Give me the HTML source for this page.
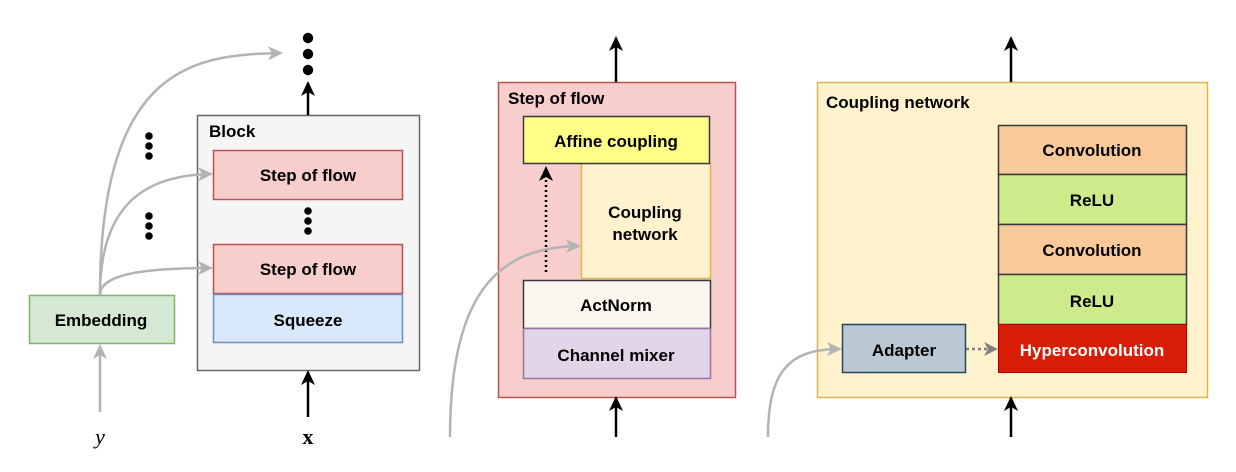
<!DOCTYPE html>
<html><head><style>
body{margin:0;background:#fff}
svg text{font-family:"Liberation Sans",Arial,sans-serif;font-weight:bold;font-size:17px}
</style></head><body>
<svg width="1236" height="467" viewBox="0 0 1236 467" xmlns="http://www.w3.org/2000/svg">
<defs>
<marker id="ab" markerWidth="16" markerHeight="16" refX="13" refY="8" orient="auto" markerUnits="userSpaceOnUse"><path d="M0,1 L15,8 L0,15 L4,8 z" fill="#000"/></marker>
<marker id="ag" markerWidth="16" markerHeight="16" refX="13" refY="8" orient="auto" markerUnits="userSpaceOnUse"><path d="M0,1 L15,8 L0,15 L4,8 z" fill="#b3b3b3"/></marker>
<marker id="ad" markerWidth="14" markerHeight="14" refX="12" refY="7" orient="auto" markerUnits="userSpaceOnUse"><path d="M0,0 L14,7 L0,14 L4,7 z" fill="#808080"/></marker>
</defs>
<!-- Left panel -->
<rect x="197.5" y="115.5" width="222" height="255" fill="#f5f5f5" stroke="#666" stroke-width="1.5"/>
<text x="209" y="137">Block</text>
<rect x="213.5" y="150.5" width="189" height="49" fill="#f8cecc" stroke="#b85450" stroke-width="1.5"/>
<text x="308" y="181" text-anchor="middle">Step of flow</text>
<rect x="213.5" y="244.5" width="189" height="49" fill="#f8cecc" stroke="#b85450" stroke-width="1.5"/>
<text x="308" y="275" text-anchor="middle">Step of flow</text>
<rect x="213.5" y="294.5" width="189" height="48" fill="#dae8fc" stroke="#6c8ebf" stroke-width="1.5"/>
<text x="308" y="326" text-anchor="middle">Squeeze</text>
<g fill="#000"><circle cx="308" cy="211" r="3.8"/><circle cx="308" cy="221" r="3.8"/><circle cx="308" cy="231" r="3.8"/>
<circle cx="149" cy="136" r="3.8"/><circle cx="149" cy="146" r="3.8"/><circle cx="149" cy="156" r="3.8"/>
<circle cx="149" cy="216" r="3.8"/><circle cx="149" cy="226" r="3.8"/><circle cx="149" cy="236" r="3.8"/>
<circle cx="308" cy="38" r="5.2"/><circle cx="308" cy="54" r="5.2"/><circle cx="308" cy="70" r="5.2"/></g>
<rect x="29.5" y="295.5" width="145" height="48" fill="#d5e8d4" stroke="#82b366" stroke-width="1.5"/>
<text x="101" y="326" text-anchor="middle">Embedding</text>
<line x1="308" y1="115" x2="308" y2="83" stroke="#000" stroke-width="2.5" marker-end="url(#ab)"/>
<line x1="308" y1="417" x2="308" y2="372" stroke="#000" stroke-width="2.5" marker-end="url(#ab)"/>
<line x1="100" y1="412" x2="100" y2="346" stroke="#b3b3b3" stroke-width="2.5" marker-end="url(#ag)"/>
<g fill="none" stroke="#b3b3b3" stroke-width="2.5">
<path d="M100,295 C100,60 200,55 281,53" marker-end="url(#ag)"/>
<path d="M100,295 C100,200 150,175 211,174" marker-end="url(#ag)"/>
<path d="M100,295 C100,275 140,268 211,268" marker-end="url(#ag)"/>
</g>
<text x="308" y="444" text-anchor="middle" style="font-family:'Liberation Serif',serif;font-size:22px">x</text>
<text x="100" y="444" text-anchor="middle" style="font-family:'Liberation Serif',serif;font-size:22px;font-style:italic;font-weight:normal">y</text>
<!-- Middle panel -->
<rect x="498.5" y="82.5" width="237" height="315" fill="#f8cecc" stroke="#b85450" stroke-width="1.5"/>
<text x="508" y="104">Step of flow</text>
<rect x="581.5" y="163.5" width="129" height="115" fill="#fff2cc" stroke="#d6b656" stroke-width="1.5"/>
<text x="645" y="218" text-anchor="middle">Coupling</text>
<text x="645" y="240" text-anchor="middle">network</text>
<rect x="523.5" y="116.5" width="186" height="47" fill="#ffff88" stroke="#36393d" stroke-width="1.5"/>
<text x="616" y="147" text-anchor="middle">Affine coupling</text>
<rect x="523.5" y="280.5" width="187" height="48" fill="#f9f7ed" stroke="#36393d" stroke-width="1.5"/>
<text x="616" y="311" text-anchor="middle">ActNorm</text>
<rect x="523.5" y="328.5" width="187" height="50" fill="#e1d5e7" stroke="#9673a6" stroke-width="1.5"/>
<text x="616" y="361" text-anchor="middle">Channel mixer</text>
<line x1="546" y1="272" x2="546" y2="168" stroke="#000" stroke-width="2.5" stroke-dasharray="2,3" marker-end="url(#ab)"/>
<line x1="616" y1="82" x2="616" y2="38" stroke="#000" stroke-width="2.5" marker-end="url(#ab)"/>
<line x1="616" y1="437" x2="616" y2="398" stroke="#000" stroke-width="2.5" marker-end="url(#ab)"/>
<path d="M450,437 C450,290 500,247 579,246" fill="none" stroke="#b3b3b3" stroke-width="2.5" marker-end="url(#ag)"/>
<!-- Right panel -->
<rect x="817.5" y="82.5" width="390" height="315" fill="#fff2cc" stroke="#d6b656" stroke-width="1.5"/>
<text x="826" y="108">Coupling network</text>
<rect x="998.5" y="125.5" width="188" height="49" fill="#f9c999" stroke="#36393d" stroke-width="1.5"/>
<text x="1092" y="156" text-anchor="middle">Convolution</text>
<rect x="998.5" y="174.5" width="188" height="50" fill="#cdeb8b" stroke="#36393d" stroke-width="1.5"/>
<text x="1092" y="206" text-anchor="middle">ReLU</text>
<rect x="998.5" y="224.5" width="188" height="50" fill="#f9c999" stroke="#36393d" stroke-width="1.5"/>
<text x="1092" y="256" text-anchor="middle">Convolution</text>
<rect x="998.5" y="274.5" width="188" height="50" fill="#cdeb8b" stroke="#36393d" stroke-width="1.5"/>
<text x="1092" y="307" text-anchor="middle">ReLU</text>
<rect x="998.5" y="324.5" width="188" height="48" fill="#d91c05" stroke="#b20000" stroke-width="1"/>
<text x="1092" y="356" text-anchor="middle" fill="#fff">Hyperconvolution</text>
<rect x="842.5" y="324.5" width="123" height="48" fill="#bac8d3" stroke="#23445d" stroke-width="1.5"/>
<text x="904" y="356" text-anchor="middle">Adapter</text>
<line x1="966" y1="349" x2="996" y2="349" stroke="#808080" stroke-width="2.5" stroke-dasharray="3,3" marker-end="url(#ad)"/>
<line x1="1011" y1="82" x2="1011" y2="38" stroke="#000" stroke-width="2.5" marker-end="url(#ab)"/>
<line x1="1011" y1="437" x2="1011" y2="398" stroke="#000" stroke-width="2.5" marker-end="url(#ab)"/>
<path d="M768,437 C768,370 790,349 840,349" fill="none" stroke="#b3b3b3" stroke-width="2.5" marker-end="url(#ag)"/>
</svg>
</body></html>
